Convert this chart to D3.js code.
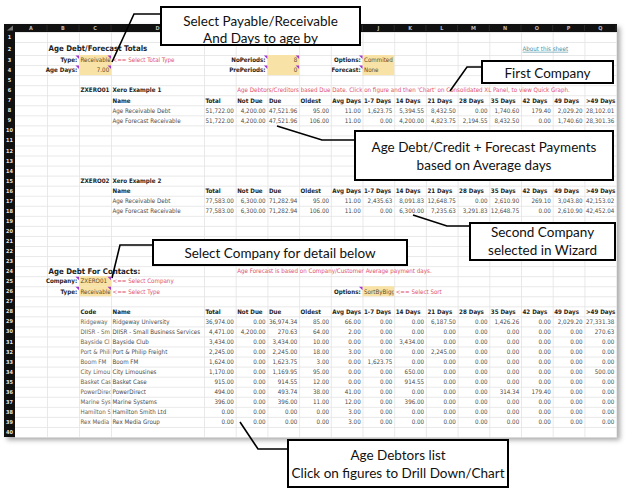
<!DOCTYPE html>
<html><head><meta charset="utf-8">
<script src="https://cdn.jsdelivr.net/npm/d3@7/dist/d3.min.js"></script>
<style>body{margin:0;background:#fff}svg{display:block}</style>
</head><body>
<svg id="c" width="628" height="497"></svg>
<script>
// ---------------- DATA ----------------
const colLetters = ["A","B","C","D","E","F","G","H","I","J","K","L","M","N","O","P","Q"];
const headers = ["Total","Not Due","Due","Oldest","Avg Days","1-7 Days","14 Days","21 Days","28 Days","35 Days","42 Days","49 Days",">49 Days"];
const summaryLabels = ["Age Receivable Debt","Age Forecast Receivable"];
const company1 = ["ZXERO01","Xero Example 1"];
const company1Rows = [
  [51722.00,4200.00,47521.96,95,11,1623.75,5394.55,8432.50,0,1740.60,179.40,2029.20,28102.01],
  [51722.00,4200.00,47521.96,106,11,0,4200.00,4823.75,2194.55,8432.50,0,1740.60,28301.36]
];
const company2 = ["ZXERO02","Xero Example 2"];
const company2Rows = [
  [77583.00,6300.00,71282.94,95,11,2435.63,8091.83,12648.75,0,2610.90,269.10,3043.80,42153.02],
  [77583.00,6300.00,71282.94,106,11,0,6300.00,7235.63,3291.83,12648.75,0,2610.90,42452.04]
];
const contactCodes = ["Ridgeway","DIISR - Small Business Services","Bayside Club","Port & Philip Freight","Boom FM","City Limousines","Basket Case","PowerDirect","Marine Systems","Hamilton Smith Ltd","Rex Media Group"];
const contactNames = ["Ridgeway University","DIISR - Small Business Services","Bayside Club","Port & Philip Freight","Boom FM","City Limousines","Basket Case","PowerDirect","Marine Systems","Hamilton Smith Ltd","Rex Media Group"];
const contactRows = [
  [36974.00,0,36974.34,85,66,0,0,6187.50,0,1426.26,0,2029.20,27331.38],
  [4471.00,4200.00,270.63,64,2,0,0,0,0,0,0,0,270.63],
  [3434.00,0,3434.00,10,0,0,3434.00,0,0,0,0,0,0],
  [2245.00,0,2245.00,18,3,0,0,2245.00,0,0,0,0,0],
  [1624.00,0,1623.75,3,0,1623.75,0,0,0,0,0,0,0],
  [1170.00,0,1169.95,95,0,0,650.00,0,0,0,0,0,500.00],
  [915.00,0,914.55,12,0,0,914.55,0,0,0,0,0,0],
  [494.00,0,493.74,38,41,0,0,0,0,314.34,179.40,0,0],
  [396.00,0,396.00,11,12,0,396.00,0,0,0,0,0,0],
  [0,0,0,0,3,0,0,0,0,0,0,0,0],
  [0,0,0,0,3,0,0,0,0,0,0,0,0]
];
const settings1 = [["Type:","Receivable","<== Select Total Type"],["Age Days:","7.00",""]];
const settings2 = [["NoPeriods:","8"],["PrePeriods:","0"]];
const settings3 = [["Options:","Commited"],["Forecast:","None"]];
const contactSettings = [["Company:","ZXERO01","<== Select Company"],["Type:","Receivable","<== Select Type"]];
const notes = [
  "Age Debtors/Creditors based Due Date.  Click on figure and then 'Chart' on Consolidated XL Panel, to view Quick Graph.",
  "Age Forecast is based on Company/Customer Average payment days."
];
const callouts = [
  {lines:["Select Payable/Receivable","And Days to age by"]},
  {lines:["First Company"]},
  {lines:["Age Debt/Credit + Forecast Payments","based on Average days"]},
  {lines:["Second Company","selected in Wizard"]},
  {lines:["Select Company for detail below"]},
  {lines:["Age Debtors list","Click on figures to Drill Down/Chart"]}
];

// ---------------- LAYOUT ----------------
const svg = d3.select("#c");
const FONT = "'DejaVu Sans Condensed','Liberation Sans Narrow',sans-serif";
const FS = 6.2;
const RED = "#e0506e", TAN = "#f8e2a6", GRID = "#e3e3e3", TXT = "#4a4a4a", HDR = "#1e1e1e";
const sheetL = 4, rowHdrR = 15, sheetR = 617;
const widths = [32,32,32,93].concat(d3.range(13).map(()=>31.7));
const colX = d3.scaleOrdinal().domain(colLetters).range(d3.range(17).map(i=>rowHdrR + d3.sum(widths.slice(0,i))));
const colW = d3.scaleOrdinal().domain(colLetters).range(widths);
const rowY = d3.scaleLinear().domain([0,1,2,3,41]).range([24,32,42,55,437]);
const rowC = r => (rowY(r)+rowY(r+1))/2;
const fmt = d3.format(",.2f");
const sheetB = rowY(41);

const boxes = [
  {x:161,y:7,w:199,h:38, lead:[[161,14],[134,14],[112,62]], ly:[20.5,37.5]},
  {x:482,y:61,w:131,h:22, lead:[[482,67],[467,67],[450,91]], ly:[72.5]},
  {x:355,y:131,w:258,h:49, lead:[[355,140],[322,140],[277,126]], ly:[146.5,165]},
  {x:470,y:223,w:145,h:37, lead:[[470,226],[447,226],[413,215]], ly:[232,249.5]},
  {x:153,y:240,w:254,h:25, lead:[[153,245],[120,245],[112,278]], ly:[253]},
  {x:288,y:440,w:220,h:47, lead:[[288,449],[258,449],[240,422]], ly:[455,473]}
];

const defs = svg.append("defs");
const f = defs.append("filter").attr("id","sh").attr("x","-5%").attr("y","-5%").attr("width","115%").attr("height","120%");
f.append("feDropShadow").attr("dx",3).attr("dy",3).attr("stdDeviation",2.5).attr("flood-color","#000").attr("flood-opacity",0.35);

// sheet background
svg.append("rect").attr("x",sheetL).attr("y",rowY(0)).attr("width",sheetR-sheetL).attr("height",sheetB-rowY(0))
  .attr("fill","#fff").attr("filter","url(#sh)");

const g = svg.append("g");
// gridlines
g.selectAll("line.h").data(d3.range(1,42)).join("line")
  .attr("x1",rowHdrR).attr("x2",sheetR).attr("y1",d=>rowY(d)+0.5).attr("y2",d=>rowY(d)+0.5)
  .attr("stroke",GRID).attr("stroke-width",0.8);
g.selectAll("line.v").data(colLetters).join("line")
  .attr("y1",rowY(1)).attr("y2",sheetB).attr("x1",d=>colX(d)+colW(d)+0.5).attr("x2",d=>colX(d)+colW(d)+0.5)
  .attr("stroke",GRID).attr("stroke-width",0.8);

// cells
const cells = [];
function cell(col,row,text,o={}){ cells.push(Object.assign({col,row,text},o)); }
const bigTitle = {bold:true,size:7.8,color:HDR};
cell("B",2,"Age Debt/Forecast Totals",bigTitle);
const lab = {bold:true,align:"end",color:HDR,mark:true};
const inp = "#5a4a2a";
settings1.forEach((s,i)=>{ cell("B",3+i,s[0],lab); cell("C",3+i,s[1],{fill:TAN,align:i?"end":"start",clip:true,mark:true,color:inp}); if(s[2]) cell("D",3+i,s[2],{color:RED}); });
settings2.forEach((s,i)=>{ cell("F",3+i,s[0],lab); cell("G",3+i,s[1],{fill:TAN,align:"end",mark:true,color:inp}); });
settings3.forEach((s,i)=>{ cell("I",3+i,s[0],lab); cell("J",3+i,s[1],{fill:TAN,color:inp}); });
cell("O",2,"About this sheet",{color:"#4b8fa3",underline:true});

const dataCols = colLetters.slice(4);
function block(startRow, comp, rows, note){
  cell("C",startRow,comp[0],{bold:true,color:HDR});
  cell("D",startRow,comp[1],{bold:true,color:HDR});
  if(note) cell("F",startRow,note,{color:RED});
  cell("D",startRow+1,"Name",{bold:true,color:HDR});
  headers.forEach((h,i)=>cell(dataCols[i],startRow+1,h,{bold:true,color:HDR}));
  rows.forEach((r,ri)=>{
    cell("D",startRow+2+ri,summaryLabels[ri]);
    r.forEach((v,i)=>cell(dataCols[i],startRow+2+ri,fmt(v),{align:"end"}));
  });
}
block(6,company1,company1Rows,notes[0]);
block(15,company2,company2Rows,null);

cell("B",24,"Age Debt For Contacts:",bigTitle);
cell("F",24,notes[1],{color:RED});
contactSettings.forEach((s,i)=>{ cell("B",25+i,s[0],lab); cell("C",25+i,s[1],{fill:TAN,clip:true,mark:true,color:inp}); cell("D",25+i,s[2],{color:RED}); });
cell("I",26,"Options:",lab);
cell("J",26,"SortByBiggest",{fill:TAN,clip:true,color:inp});
cell("K",26,"<== Select Sort",{color:RED});
cell("C",28,"Code",{bold:true,color:HDR});
cell("D",28,"Name",{bold:true,color:HDR});
headers.forEach((h,i)=>cell(dataCols[i],28,h,{bold:true,color:HDR}));
contactRows.forEach((r,ri)=>{
  cell("C",29+ri,contactCodes[ri],{clip:true,color:"#6b5e4e"});
  cell("D",29+ri,contactNames[ri],{clip:true});
  r.forEach((v,i)=>cell(dataCols[i],29+ri,fmt(v),{align:"end"}));
});

// fills
g.selectAll("rect.fill").data(cells.filter(c=>c.fill)).join("rect")
  .attr("x",d=>colX(d.col)).attr("y",d=>rowY(d.row)).attr("width",d=>colW(d.col)).attr("height",d=>rowY(d.row+1)-rowY(d.row))
  .attr("fill",d=>d.fill);
cells.forEach((c,i)=>{ c.id=i; if(c.clip){
  defs.append("clipPath").attr("id","cp"+i).append("rect")
    .attr("x",colX(c.col)).attr("y",rowY(c.row)).attr("width",colW(c.col)-0.5).attr("height",rowY(c.row+1)-rowY(c.row));
}});
const texts = g.selectAll("text.cell").data(cells).join("text")
  .attr("x",d=>d.align==="end"? colX(d.col)+colW(d.col)-1.8 : colX(d.col)+1.5)
  .attr("y",d=>rowC(d.row)+2.3+(d.size?0.6:0))
  .attr("text-anchor",d=>d.align||"start")
  .attr("clip-path",d=>d.clip?`url(#cp${d.id})`:null)
  .style("font-family",FONT).style("font-size",d=>(d.size||FS)+"px")
  .style("font-weight",d=>d.bold?"bold":"normal")
  .style("text-decoration",d=>d.underline?"underline":null)
  .attr("fill",d=>d.color||TXT)
  .text(d=>d.text);
// text that does not fit its cell is cut at the cell edge, as in the sheet
texts.filter(d=>d.clip).each(function(d){
  const avail = colW(d.col)-2;
  let t = d.text;
  while(t.length>1 && this.getComputedTextLength()>avail+2){ t=t.slice(0,-1); this.textContent=t; }
});
g.selectAll("path.mk").data(cells.filter(c=>c.mark)).join("path")
  .attr("d",d=>{const x=colX(d.col)+colW(d.col), y=rowY(d.row); return `M${x-3.5},${y+0.5}L${x},${y+0.5}L${x},${y+4}Z`;})
  .attr("fill","#a13ad0");

// headers
g.append("rect").attr("x",sheetL).attr("y",rowY(0)).attr("width",sheetR-sheetL).attr("height",rowY(1)-rowY(0)).attr("fill","#111");
g.append("rect").attr("x",sheetL).attr("y",rowY(0)).attr("width",rowHdrR-sheetL).attr("height",sheetB-rowY(0)).attr("fill","#111");
g.append("path").attr("d",`M${rowHdrR-2},${rowY(0)+1.5}L${rowHdrR-2},${rowY(1)-1.5}L${rowHdrR-8},${rowY(1)-1.5}Z`).attr("fill","#777");
const b0 = boxes[0];
const visLetters = colLetters.filter(d=>{const cx=colX(d)+colW(d)/2; return cx<b0.x-2 || cx>b0.x+b0.w+2;});
g.selectAll("text.col").data(visLetters).join("text")
  .attr("x",d=>colX(d)+colW(d)/2).attr("y",rowC(0)+2).attr("text-anchor","middle")
  .style("font-family",FONT).style("font-size","5.5px").style("font-weight","bold").attr("fill","#bdbdbd").text(d=>d);
g.selectAll("line.cs").data(colLetters).join("line")
  .attr("x1",d=>colX(d)+colW(d)).attr("x2",d=>colX(d)+colW(d)).attr("y1",rowY(0)+1).attr("y2",rowY(1)-1).attr("stroke","#3a3a3a").attr("stroke-width",0.6);
g.selectAll("text.row").data(d3.range(1,41)).join("text")
  .attr("x",(sheetL+rowHdrR)/2).attr("y",d=>rowC(d)+2).attr("text-anchor","middle")
  .style("font-family",FONT).style("font-size","5.5px").style("font-weight","bold").attr("fill","#e8e8e8").text(d=>d);

// ---------------- CALLOUTS ----------------
const cg = svg.append("g");
callouts.forEach((c,i)=>{
  const b = boxes[i];
  cg.append("path").attr("d",d3.line()(b.lead)).attr("fill","none").attr("stroke","#000").attr("stroke-width",1.6);
  cg.append("rect").attr("x",b.x).attr("y",b.y).attr("width",b.w).attr("height",b.h)
    .attr("fill","#fff").attr("stroke","#000").attr("stroke-width",2);
  c.lines.forEach((t,j)=>{
    cg.append("text").attr("x",b.x+b.w/2).attr("y",b.ly[j]).attr("text-anchor","middle").attr("dominant-baseline","central")
      .style("font-family","Lato,'Open Sans',sans-serif").style("font-size","13.5px").attr("fill","#111").text(t);
  });
});
</script>
</body></html>
